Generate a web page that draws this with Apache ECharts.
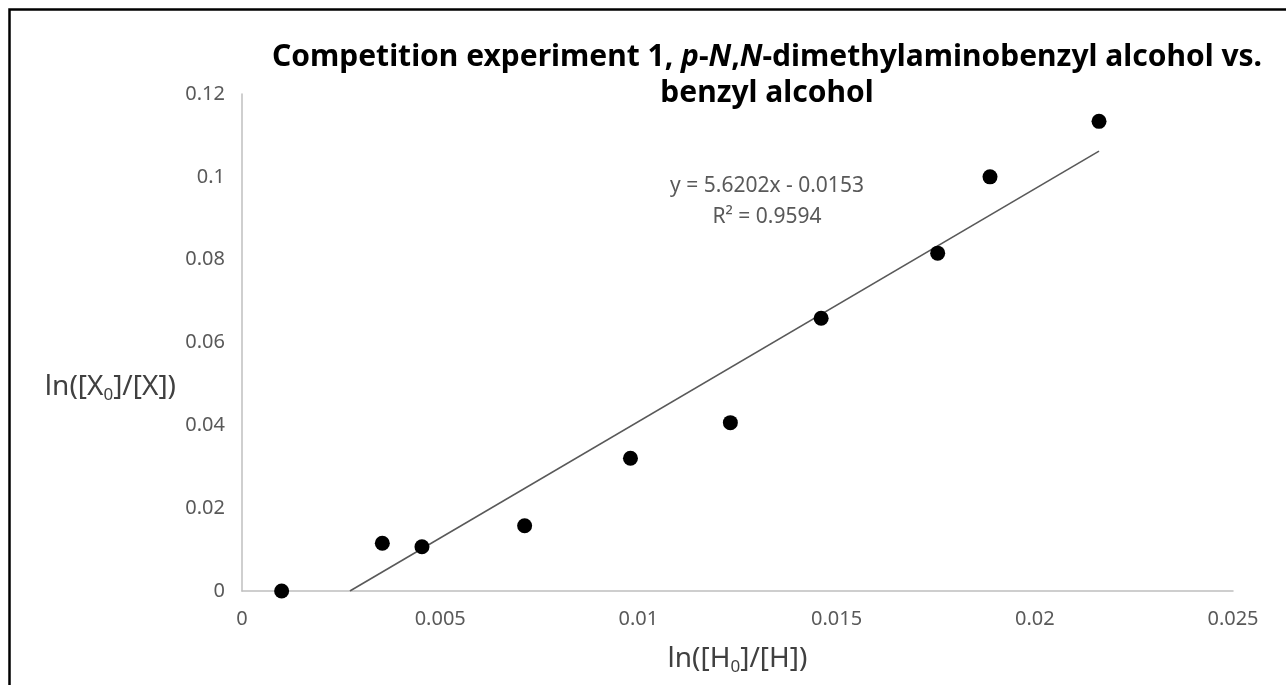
<!DOCTYPE html>
<html>
<head>
<meta charset="utf-8">
<title>Competition experiment 1</title>
<script src="https://cdn.jsdelivr.net/npm/echarts@6/dist/echarts.min.js"></script>
<style>
    html, body { margin: 0; padding: 0; background: #fff; }
    #chart { width: 1286px; height: 685px; }
</style>
</head>
<body>
<div id="chart"></div>
<script>
// ln([H0]/[H]) vs ln([X0]/[X])
var xVals = [0.0010, 0.00354, 0.00454, 0.00713, 0.00980, 0.01232, 0.01461, 0.01755, 0.01887, 0.02162];
var yVals = [0.0000, 0.01152, 0.01070, 0.01577, 0.03205, 0.04065, 0.06587, 0.08157, 0.1000, 0.1134];
var fitSlope = 5.6202,
    fitIntercept = -0.0153,
    fitR2 = 0.9594;
var xTicks = { min: 0, max: 0.025, step: 0.005 };
var yTicks = { min: 0, max: 0.12, step: 0.02 };

(function() {
    var chart = echarts.init(document.getElementById("chart"));
    var font = "Noto Sans",
        gray = "#595959";

    var points = xVals.map(function(x, i) {
        return [x, yVals[i]];
    });

    // excel trendline: from where it crosses y=0 to the last point
    var x0 = -fitIntercept / fitSlope,
        x1 = Math.max.apply(null, xVals);
    var trend = [x0, x1].map(function(x) {
        return [x, fitSlope * x + fitIntercept];
    });

    var eq = "y = " + fitSlope.toFixed(4) + "x - " + Math.abs(fitIntercept).toFixed(4);

    function axisName(padTop) {
        return {
            fontFamily: font,
            fontSize: 28,
            color: "#404040",
            padding: [padTop, 0, 0, 0],
            rich: {
                sub: { fontFamily: font, fontSize: 17, color: "#404040", verticalAlign: "bottom", padding: [16, 0, 0, 0] }
            }
        };
    }

    var option = {
        animation: false,
        backgroundColor: "#fff",
        title: {
            text: "Competition experiment 1, {i|p}-{i|N},{i|N}-dimethylaminobenzyl alcohol vs.\nbenzyl alcohol",
            left: 767,
            top: 39,
            padding: 0,
            textAlign: "center",
            textStyle: {
                fontFamily: font,
                fontSize: 30,
                fontWeight: "bold",
                color: "#000",
                lineHeight: 36,
                rich: {
                    i: {
                        fontFamily: font,
                        fontSize: 30,
                        fontWeight: "bold",
                        fontStyle: "italic",
                        color: "#000",
                        lineHeight: 36
                    }
                }
            }
        },
        grid: {
            left: 242,
            right: 53,
            top: 94,
            bottom: 94,
            containLabel: false
        },
        xAxis: {
            type: "value",
            min: xTicks.min,
            max: xTicks.max,
            interval: xTicks.step,
            name: "ln([H{sub|0}]/[H])",
            nameLocation: "middle",
            nameGap: 52,
            nameTextStyle: axisName(0),
            axisLine: { lineStyle: { color: "#bfbfbf", width: 1.5 } },
            axisTick: { show: false },
            splitLine: { show: false },
            axisLabel: {
                fontFamily: font,
                fontSize: 20,
                color: gray,
                margin: 18
            }
        },
        yAxis: {
            type: "value",
            min: yTicks.min,
            max: yTicks.max,
            interval: yTicks.step,
            name: "ln([X{sub|0}]/[X])",
            nameLocation: "middle",
            nameRotate: 0,
            nameGap: 66,
            nameTextStyle: axisName(90),
            axisLine: { show: true, lineStyle: { color: "#bfbfbf", width: 1.5 } },
            axisTick: { show: false },
            splitLine: { show: false },
            axisLabel: {
                fontFamily: font,
                fontSize: 20,
                color: gray,
                margin: 17
            }
        },
        series: [{
                name: "trend",
                type: "line",
                data: trend,
                symbol: "none",
                silent: true,
                lineStyle: { color: gray, width: 1.6 },
                z: 2
            },
            {
                name: "data",
                type: "scatter",
                data: points,
                symbolSize: 15,
                itemStyle: { color: "#000", opacity: 1 },
                z: 3
            }
        ],
        graphic: [{
                type: "rect",
                shape: { x: 9.5, y: 9.5, width: 1400, height: 800 },
                style: { fill: null, stroke: "#000", lineWidth: 2.5 },
                silent: true
            },
            {
                type: "text",
                x: 767,
                y: 186,
                style: {
                    text: eq,
                    fontFamily: font,
                    fontSize: 21,
                    fill: gray,
                    align: "center",
                    verticalAlign: "middle"
                }
            },
            {
                type: "text",
                x: 767,
                y: 217,
                style: {
                    text: "R² = " + fitR2.toFixed(4),
                    fontFamily: font,
                    fontSize: 21,
                    fill: gray,
                    align: "center",
                    verticalAlign: "middle"
                }
            }
        ]
    };

    chart.setOption(option);
}());
</script>
</body>
</html>
